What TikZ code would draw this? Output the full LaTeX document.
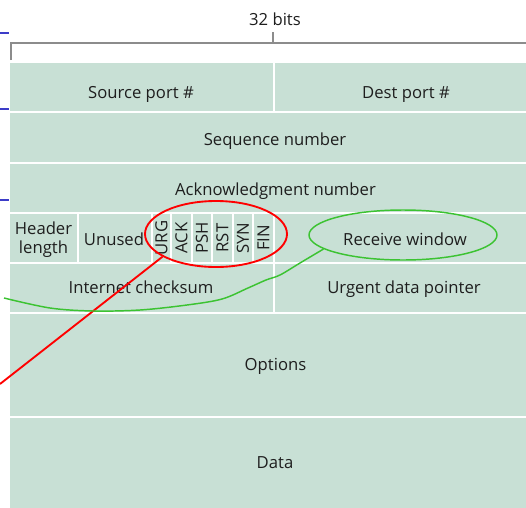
\documentclass[tikz,border=0pt]{standalone}
\usepackage{fontspec}
\setmainfont{Open Sans}
\usetikzlibrary{fit,shapes.geometric}
\definecolor{cellfill}{RGB}{200,224,213}
\definecolor{txt}{RGB}{30,30,30}
\definecolor{brk}{RGB}{140,140,140}
\definecolor{gline}{RGB}{60,195,50}
\definecolor{bmark}{RGB}{60,60,200}
\tikzset{
  cell/.style={fill=cellfill, draw=none, inner sep=0pt},
  celltext/.style={inner sep=0pt, text=txt, font=\fontsize{12.5}{14.25}\selectfont, align=center},
  basetext/.style={celltext, anchor=base},
  redring/.style={ellipse, draw=red, line width=1.4pt, inner sep=0pt},
  greenring/.style={ellipse, draw=gline, line width=1.1pt, inner sep=0pt},
  redline/.style={draw=red, line width=1.4pt},
  greenline/.style={draw=gline, line width=1.1pt},
  bracket/.style={draw=brk, line width=1pt},
  bluemark/.style={draw=bmark, line width=1.2pt}
}
\begin{document}
\begin{tikzpicture}[x=0.75pt, y=-0.75pt]
\useasboundingbox (0,0) rectangle (526,508);
% title and bracket
\node[basetext] (title) at (275,25) {32 bits};
\coordinate (bt) at (273,32);
\coordinate (bm) at (273,43);
\coordinate (bl) at (11,43);
\coordinate (blb) at (11,60);
\coordinate (br) at (526,43);
\draw[bracket] (blb) -- (bl) -- (br);
\draw[bracket] (bt) -- (bm);
% blue marks
\coordinate (m1a) at (0,33); \coordinate (m1b) at (9,33);
\coordinate (m2a) at (0,109); \coordinate (m2b) at (9,109);
\coordinate (m3a) at (0,200); \coordinate (m3b) at (9,200);
\draw[bluemark] (m1a) -- (m1b);
\draw[bluemark] (m2a) -- (m2b);
\draw[bluemark] (m3a) -- (m3b);
% cells
\node[cell, fit={(10,63) (273,111)}] (src) {};
\node[cell, fit={(275,63) (526,111)}] (dst) {};
\node[cell, fit={(10,113) (526,162)}] (seq) {};
\node[cell, fit={(10,164) (526,212)}] (ack) {};
\node[cell, fit={(10,214) (77,262)}] (hlen) {};
\node[cell, fit={(79,214) (151,262)}] (unused) {};
\node[cell, fit={(153,214) (170,262)}] (urg) {};
\node[cell, fit={(172,214) (191,262)}] (ackf) {};
\node[cell, fit={(193,214) (211,262)}] (psh) {};
\node[cell, fit={(213,214) (232,262)}] (rst) {};
\node[cell, fit={(234,214) (252,262)}] (syn) {};
\node[cell, fit={(254,214) (273,262)}] (fin) {};
\node[cell, fit={(275,214) (526,262)}] (rwin) {};
\node[cell, fit={(10,264) (273,312)}] (csum) {};
\node[cell, fit={(275,264) (526,312)}] (urgp) {};
\node[cell, fit={(10,314) (526,416)}] (opt) {};
\node[cell, fit={(10,418) (526,508)}] (data) {};
% texts
\node[basetext] (srcT) at (141,98) {Source port \#};
\node[basetext] (dstT) at (406,98) {Dest port \#};
\node[basetext] (seqT) at (275,145) {Sequence number};
\node[basetext] (ackT) at (275.5,195) {Acknowledgment number};
\node[basetext] (hlenT1) at (43.5,234) {Header};
\node[basetext] (hlenT2) at (43.5,253) {length};
\node[basetext] (unusedT) at (114,245) {Unused};
\node[celltext, rotate=90] (urgT) at (urg.center) {URG};
\node[celltext, rotate=90] (ackfT) at (ackf.center) {ACK};
\node[celltext, rotate=90] (pshT) at (psh.center) {PSH};
\node[celltext, rotate=90] (rstT) at (rst.center) {RST};
\node[celltext, rotate=90] (synT) at (syn.center) {SYN};
\node[celltext, rotate=90] (finT) at (fin.center) {FIN};
\node[basetext] (rwinT) at (405,245) {Receive window};
\node[basetext] (csumT) at (141,293) {Internet checksum};
\node[basetext] (urgpT) at (404,293) {Urgent data pointer};
\node[basetext] (optT) at (275.5,370) {Options};
\node[basetext] (dataT) at (275,468) {Data};
% annotations
\node[redring, minimum width=106.5pt, minimum height=49.5pt] (redell) at (216,234) {};
\node[greenring, minimum width=141pt, minimum height=37.5pt] (greenell) at (403,235) {};
\coordinate (rend) at (0,384);
\draw[redline] (redell.203) -- (rend);
\coordinate (gend) at (4,298);
\draw[greenline] plot[smooth, tension=0.55] coordinates {(greenell.190) (300,263) (280,275) (266,280) (248,288) (222,299) (187,305) (140,310) (93,311) (50,308) (gend)};
\end{tikzpicture}
\end{document}
